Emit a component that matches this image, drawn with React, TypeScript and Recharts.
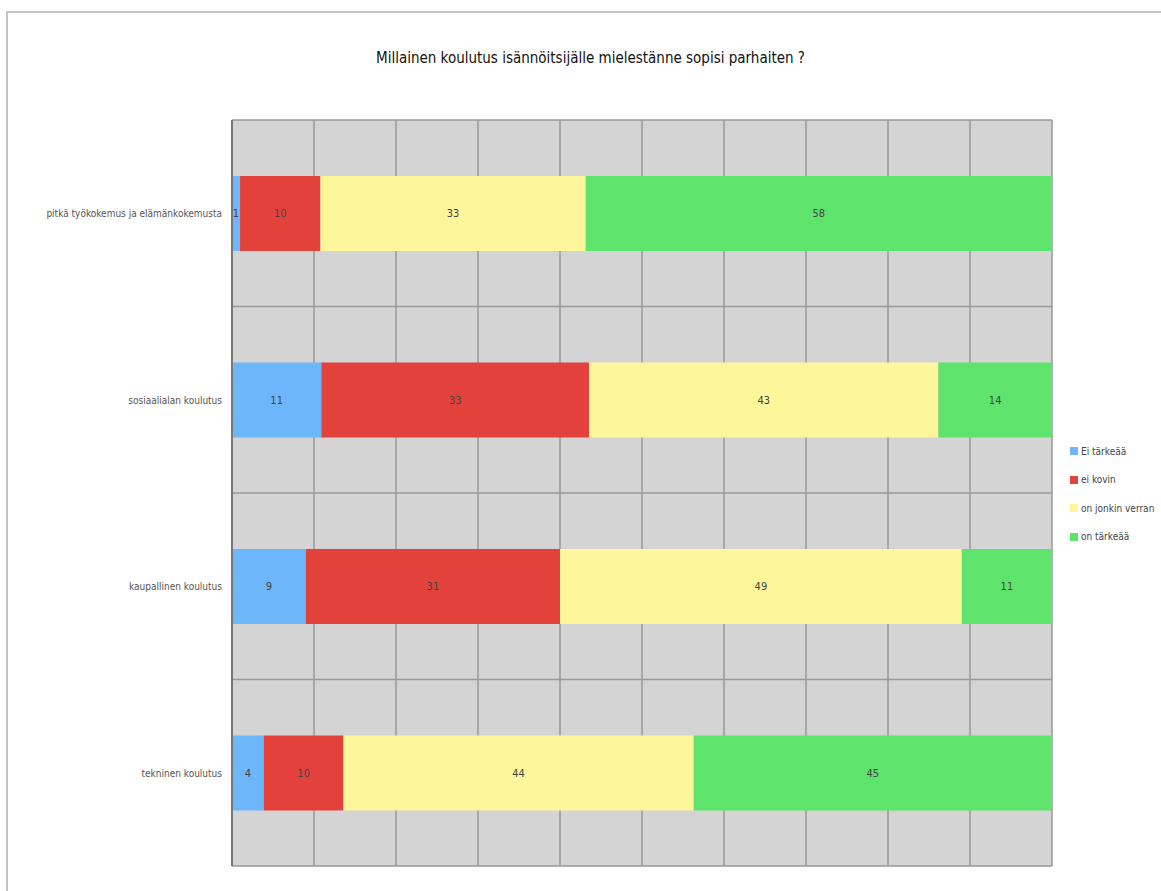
import { BarChart, Bar, XAxis, YAxis, CartesianGrid, Legend, LabelList } from 'recharts';

const categories = [
    'pitkä työkokemus ja elämänkokemusta',
    'sosiaalialan koulutus',
    'kaupallinen koulutus',
    'tekninen koulutus',
];
const eiTarkea = [1, 11, 9, 4];
const eiKovin = [10, 33, 31, 10];
const jonkinVerran = [33, 43, 49, 44];
const onTarkea = [58, 14, 11, 45];

const xTicks = [0, 0.1, 0.2, 0.3, 0.4, 0.5, 0.6, 0.7, 0.8, 0.9, 1];

const SERIES = [
    { key: 'a', name: 'Ei tärkeää', color: '#6db6f9' },
    { key: 'b', name: 'ei kovin', color: '#e3423c' },
    { key: 'c', name: 'on jonkin verran', color: '#fef69b' },
    { key: 'd', name: 'on tärkeää', color: '#5ee36c' },
];

const data = categories.map((name, i) => ({
    name,
    a: eiTarkea[i],
    b: eiKovin[i],
    c: jonkinVerran[i],
    d: onTarkea[i],
}));

const FONT = '"DejaVu Sans Condensed", "Liberation Sans Narrow", sans-serif';

function LegendBox({ payload }: any) {
    return (
        <div style={{ fontFamily: FONT, fontSize: 10, color: '#444' }}>
            {(payload || []).map((p: any) => (
                <div key={p.value} style={{ display: 'flex', alignItems: 'center', height: 28.5 }}>
                    <span style={{ width: 8, height: 8, background: p.color, display: 'inline-block', marginRight: 3 }} />
                    {p.value}
                </div>
            ))}
        </div>
    );
}

function CategoryTick({ x, y, payload }: any) {
    return (
        <text x={x} y={y} dy={4} textAnchor="end" fontFamily={FONT} fontSize={10} fill="#555">
            {payload.value}
        </text>
    );
}

// horizontal lines at the borders between categories
const rowLines = ({ offset }: any) =>
    categories.concat(['']).map((_, i) => offset.top + (offset.height * i) / categories.length);

export default function App() {
    return (
        <div style={{ position: 'absolute', left: 0, top: 0, width: 1161, height: 891, background: '#fff', overflow: 'hidden' }}>
            {/* frame */}
            <div style={{ position: 'absolute', left: 6, top: 11, width: 1200, height: 900, borderTop: '2px solid #c4c4c4', borderLeft: '2px solid #c4c4c4' }} />
            <div style={{ position: 'absolute', left: 0, top: 49, width: 1181, textAlign: 'center', fontFamily: FONT, fontSize: 15, color: '#111' }}>
                Millainen koulutus isännöitsijälle mielestänne sopisi parhaiten ?
            </div>
            <div style={{ position: 'absolute', left: 0, top: 0 }}>
                <BarChart
                    width={1161}
                    height={891}
                    data={data}
                    layout="vertical"
                    stackOffset="expand"
                    barCategoryGap="30%"
                    margin={{ top: 120, right: 14, bottom: 25, left: 0 }}
                >
                    <CartesianGrid
                        fill="#d4d4d4"
                        stroke="#999"
                        strokeWidth={1.5}
                        horizontalCoordinatesGenerator={rowLines}
                    />
                    <XAxis type="number" domain={[0, 1]} ticks={xTicks} hide />
                    <YAxis
                        type="category"
                        dataKey="name"
                        width={232}
                        tickLine={false}
                        axisLine={{ stroke: '#777', strokeWidth: 2 }}
                        tick={<CategoryTick />}
                        tickMargin={4}
                    />
                    <Legend
                        layout="vertical"
                        align="right"
                        verticalAlign="top"
                        content={<LegendBox />}
                        wrapperStyle={{ left: 1070, top: 437, width: 95 }}
                    />
                    {SERIES.map(s => (
                        <Bar key={s.key} dataKey={s.key} name={s.name} stackId="s" fill={s.color} isAnimationActive={false}>
                            <LabelList dataKey={s.key} position="center" style={{ fontFamily: FONT, fontSize: 11, fill: '#444' }} />
                        </Bar>
                    ))}
                </BarChart>
            </div>
        </div>
    );
}
